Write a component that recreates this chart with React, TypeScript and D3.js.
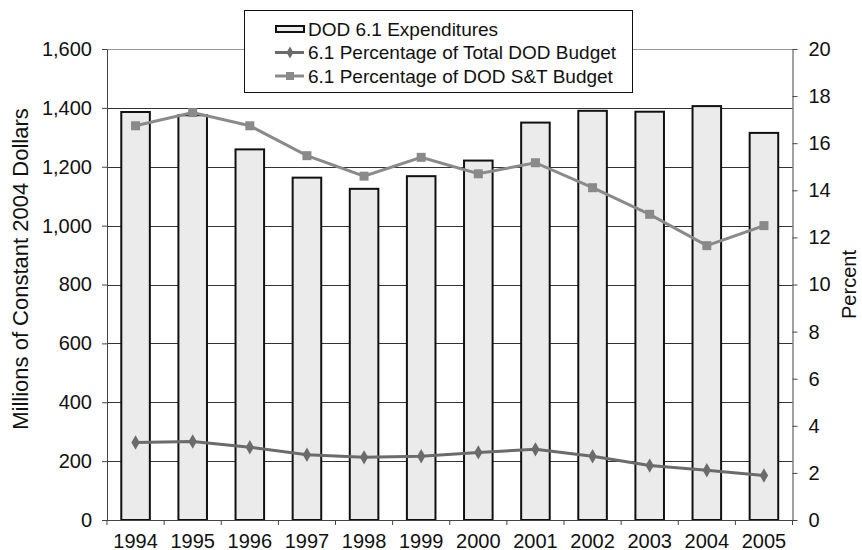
import React, { useEffect, useRef } from 'react';
import * as d3 from 'd3';

const years = ['1994', '1995', '1996', '1997', '1998', '1999', '2000', '2001', '2002', '2003', '2004', '2005'];
const expenditures = [1386, 1375, 1259, 1163, 1125, 1168, 1221, 1350, 1390, 1387, 1406, 1315];
const pctTotalDod = [3.29, 3.33, 3.09, 2.77, 2.66, 2.71, 2.87, 3.0, 2.71, 2.31, 2.11, 1.89];
const pctDodSnT = [16.74, 17.3, 16.74, 15.47, 14.6, 15.4, 14.7, 15.17, 14.11, 12.98, 11.65, 12.5];
const leftTicks = [0, 200, 400, 600, 800, 1000, 1200, 1400, 1600];
const rightTicks = [0, 2, 4, 6, 8, 10, 12, 14, 16, 18, 20];
const legendLabels = [
  'DOD 6.1 Expenditures',
  '6.1 Percentage of Total DOD Budget',
  '6.1 Percentage of DOD S&T Budget',
];

const FONT = '"Liberation Sans", Arial, Helvetica, sans-serif';

const App = () => {
  const ref = useRef<SVGSVGElement | null>(null);

  useEffect(() => {
    if (!ref.current) return;
    const svg = d3.select(ref.current);
    svg.selectAll('*').remove();

    const W = 862;
    const H = 550;
    const margin = { top: 49, right: 69.5, bottom: 30, left: 107 };
    const width = W - margin.left - margin.right;
    const height = H - margin.top - margin.bottom;

    const x = d3.scaleBand<string>().domain(years).range([0, width]).paddingInner(0.5).paddingOuter(0.25);
    const yL = d3.scaleLinear().domain([0, 1600]).range([height, 0]);
    const yR = d3.scaleLinear().domain([0, 20]).range([height, 0]);

    const g = svg
      .append('g')
      .attr('transform', `translate(${margin.left},${margin.top})`)
      .style('font-family', FONT);

    // gridlines
    g.selectAll('.grid')
      .data(leftTicks.filter((t) => t > 0))
      .enter()
      .append('line')
      .attr('x1', 0)
      .attr('x2', width)
      .attr('y1', (d) => Math.round(yL(d)) + 0.5)
      .attr('y2', (d) => Math.round(yL(d)) + 0.5)
      .attr('stroke', (d) => (d === 1600 ? '#999' : '#333'))
      .attr('stroke-width', 1);

    // bars
    g.selectAll('.bar')
      .data(expenditures)
      .enter()
      .append('rect')
      .attr('x', (d, i) => x(years[i])!)
      .attr('y', (d) => yL(d))
      .attr('width', x.bandwidth())
      .attr('height', (d) => height - yL(d))
      .attr('fill', '#ebebeb')
      .attr('stroke', '#111')
      .attr('stroke-width', 2);

    // left axis
    const left = g
      .append('g')
      .call(d3.axisLeft(yL).tickValues(leftTicks).tickFormat(d3.format(',')).tickSize(5).tickSizeOuter(0).tickPadding(10));
    left.select('.domain').attr('stroke', '#444');
    left.selectAll('line').attr('stroke', '#444');
    left.selectAll('text').style('font-size', '20px').style('font-family', FONT).attr('fill', '#111');

    // right axis
    const right = g
      .append('g')
      .attr('transform', `translate(${width},0)`)
      .call(d3.axisRight(yR).tickValues(rightTicks).tickSize(5).tickSizeOuter(0).tickPadding(11));
    right.select('.domain').attr('stroke', '#444');
    right.selectAll('line').attr('stroke', '#444');
    right.selectAll('text').style('font-size', '20px').style('font-family', FONT).attr('fill', '#111');

    // x axis: ticks sit between the years
    g.append('line')
      .attr('x1', -5)
      .attr('x2', width)
      .attr('y1', height + 0.5)
      .attr('y2', height + 0.5)
      .attr('stroke', '#444');
    const bounds = d3.range(years.length + 1).map((i) => i * x.step());
    g.selectAll('.xtick')
      .data(bounds)
      .enter()
      .append('line')
      .attr('x1', (d) => d)
      .attr('x2', (d) => d)
      .attr('y1', height)
      .attr('y2', height + 5)
      .attr('stroke', '#444');
    g.selectAll('.xlabel')
      .data(years)
      .enter()
      .append('text')
      .attr('x', (d) => x(d)! + x.bandwidth() / 2)
      .attr('y', height + 27.5)
      .attr('text-anchor', 'middle')
      .style('font-size', '20px')
      .attr('fill', '#111')
      .text((d) => d);

    // lines
    const cx = (i: number) => x(years[i])! + x.bandwidth() / 2;
    const lineR = d3
      .line<number>()
      .x((d, i) => cx(i))
      .y((d) => yR(d));

    g.append('path')
      .datum(pctTotalDod)
      .attr('fill', 'none')
      .attr('stroke', '#6b6b6b')
      .attr('stroke-width', 3)
      .attr('d', lineR);
    g.selectAll('.diamond')
      .data(pctTotalDod)
      .enter()
      .append('path')
      .attr('transform', (d, i) => `translate(${cx(i)},${yR(d)})`)
      .attr('d', d3.symbol(d3.symbolDiamond, 60)())
      .attr('fill', '#6b6b6b');

    g.append('path')
      .datum(pctDodSnT)
      .attr('fill', 'none')
      .attr('stroke', '#8a8a8a')
      .attr('stroke-width', 3)
      .attr('d', lineR);
    g.selectAll('.square')
      .data(pctDodSnT)
      .enter()
      .append('rect')
      .attr('x', (d, i) => cx(i) - 4.5)
      .attr('y', (d) => yR(d) - 4.5)
      .attr('width', 9)
      .attr('height', 9)
      .attr('fill', '#8a8a8a');

    // axis titles
    svg
      .append('text')
      .attr('transform', `translate(28,269) rotate(-90)`)
      .attr('text-anchor', 'middle')
      .style('font-family', FONT)
      .style('font-size', '22px')
      .attr('fill', '#111')
      .text('Millions of Constant 2004 Dollars');
    svg
      .append('text')
      .attr('transform', `translate(856,${margin.top + height / 2}) rotate(-90)`)
      .attr('text-anchor', 'middle')
      .style('font-family', FONT)
      .style('font-size', '20px')
      .attr('fill', '#111')
      .text('Percent');

    // legend
    const legend = svg.append('g').attr('transform', 'translate(244,10)').style('font-family', FONT);
    legend
      .append('rect')
      .attr('x', 0.5)
      .attr('y', 0.5)
      .attr('width', 388)
      .attr('height', 82)
      .attr('fill', '#fff')
      .attr('stroke', '#111');
    legendLabels.forEach((label, i) => {
      const item = legend.append('g').attr('transform', `translate(0,${19 + i * 23.5})`);
      if (i === 0) {
        item
          .append('rect')
          .attr('x', 32)
          .attr('y', -3)
          .attr('width', 28)
          .attr('height', 6)
          .attr('fill', '#ebebeb')
          .attr('stroke', '#111')
          .attr('stroke-width', 2);
      } else {
        const col = i === 1 ? '#6b6b6b' : '#8a8a8a';
        item
          .append('line')
          .attr('x1', 31)
          .attr('x2', 60)
          .attr('y1', 0)
          .attr('y2', 0)
          .attr('stroke', col)
          .attr('stroke-width', 3);
        if (i === 1) {
          item
            .append('path')
            .attr('transform', 'translate(46,0)')
            .attr('d', d3.symbol(d3.symbolDiamond, 40)())
            .attr('fill', col);
        } else {
          item.append('rect').attr('x', 42).attr('y', -4).attr('width', 8).attr('height', 8).attr('fill', col);
        }
      }
      item
        .append('text')
        .attr('x', 64)
        .attr('y', 0)
        .attr('dy', '0.35em')
        .style('font-size', '19px')
        .attr('fill', '#111')
        .text(label);
    });
  }, []);

  return <svg ref={ref} width={862} height={550} style={{ position: 'absolute', left: 0, top: 0, background: '#fff' }} />;
};

export default App;
